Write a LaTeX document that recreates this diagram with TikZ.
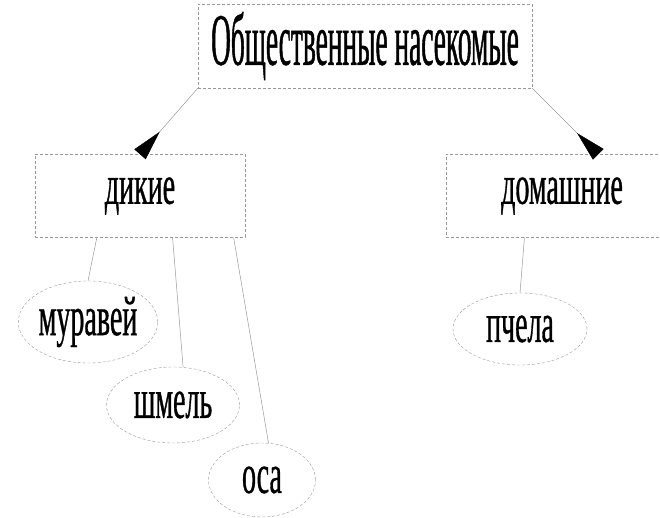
\documentclass[tikz,border=0pt]{standalone}
\usepackage{fontspec}
\newfontfamily\titlefont[FakeStretch=0.37,FakeBold=0.6]{Liberation Serif}
\newfontfamily\labelfont[FakeStretch=0.5,FakeBold=0.6]{Liberation Serif}
\usetikzlibrary{arrows.meta,shapes.geometric}

\begin{document}
\begin{tikzpicture}[x=1pt,y=-1pt,
    box/.style={shape=rectangle,draw=gray!80,densely dashed,inner sep=0pt},
    leaf/.style={shape=ellipse,draw=gray!80,densely dashed,inner sep=0pt,font=\labelfont\fontsize{56}{56}\selectfont},
    link/.style={draw=gray!80,line width=0.5pt,solid},
    tip/.style={-{Triangle[reversed,length=30pt,width=15pt,color=black,fill=black]}}]

                \useasboundingbox (0,0) rectangle (660,518);

                \node[box,minimum width=334,minimum height=84,font=\titlefont\fontsize{74}{74}\selectfont] (1) at (365,46) {Общественные насекомые};
                \node[box,minimum width=210,minimum height=83,font=\labelfont\fontsize{56}{56}\selectfont] (2) at (140,196) {дикие};
                \node[box,minimum width=232,minimum height=83,font=\labelfont\fontsize{56}{56}\selectfont] (3) at (562,196) {домашние};

                \node[leaf,minimum width=133,minimum height=82] (4) at (88,322) {муравей};
                \node[leaf,minimum width=133,minimum height=76] (5) at (173,405) {шмель};
                \node[leaf,minimum width=107,minimum height=74] (6) at (262,480) {оса};
                \node[leaf,minimum width=134,minimum height=72] (7) at (520,329) {пчела};

                \draw[link,tip] (1.south west) -- (2.north);
                \draw[link,tip] (1.south east) -- (3.49);

                \draw[link] (2.-136) -- (4.north);
                \draw[link] (2.-52) -- (5.75);
                \draw[link] (2.-24) -- (6.80);

                \draw[link] (3.-132) -- (7.north);

            \end{tikzpicture}
\end{document}
